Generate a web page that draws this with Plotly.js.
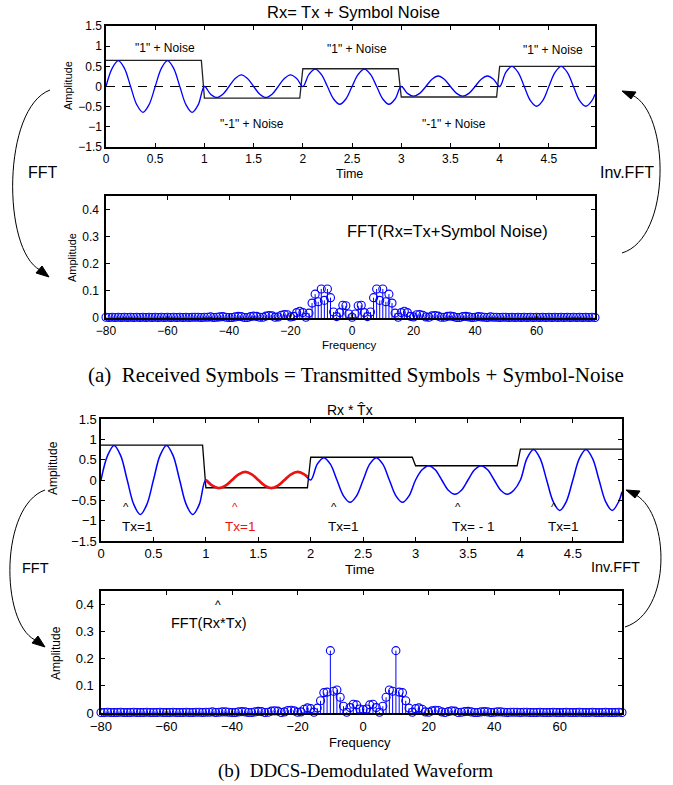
<!DOCTYPE html>
<html>
<head>
<meta charset="utf-8">
<script src="https://cdn.plot.ly/plotly-3.0.1.min.js"></script>
<style>
  html, body { margin: 0; padding: 0; background: #ffffff; }
  #chart { width: 673px; height: 785px; }
</style>
</head>
<body>
<div id="chart"></div>
<script>
// ---------- data ----------
// time grid of the received waveform (s), 1/16 s steps plus the last sample
const timeGrid = Array.from({length: 80}, (_, i) => i / 16).concat([4.96875]);

// received waveform Rx = Tx + symbol noise
const rxWave = [
  0, 0.45, 0.64, 0.45, 0, -0.45, -0.64, -0.45, 0, 0.45, 0.64, 0.45, 0, -0.45, -0.64, -0.45,
  0, -0.19, -0.27, -0.19, 0, 0.20, 0.29, 0.20, 0, -0.19, -0.27, -0.19, 0, 0.20, 0.29, 0.20,
  0, 0.30, 0.43, 0.30, 0, -0.31, -0.44, -0.31, 0, 0.30, 0.43, 0.30, 0, -0.31, -0.44, -0.31,
  0, -0.17, -0.24, -0.17, 0, 0.18, 0.26, 0.18, 0, -0.17, -0.24, -0.17, 0, 0.18, 0.26, 0.18,
  0, 0.35, 0.50, 0.35, 0, -0.35, -0.49, -0.35, 0, 0.35, 0.50, 0.35, 0, -0.35, -0.49, -0.35,
  -0.19
];
// symbol envelope of Rx
const rxEnvT = [0, 0.96875, 1, 1.96875, 2, 2.96875, 3, 3.96875, 4, 4.96875];
const rxEnvV = [0.65, 0.65, -0.29, -0.29, 0.44, 0.44, -0.26, -0.26, 0.50, 0.50];

// demodulated waveform Rx * T^x
const demodWave = [
  0, 0.60, 0.85, 0.60, 0, -0.60, -0.85, -0.60, 0, 0.60, 0.85, 0.60, 0, -0.60, -0.85, -0.60,
  0, -0.14, -0.20, -0.14, 0, 0.14, 0.20, 0.14, 0, -0.14, -0.20, -0.14, 0, 0.14, 0.20, 0.14,
  0, 0.39, 0.55, 0.39, 0, -0.39, -0.55, -0.39, 0, 0.39, 0.55, 0.39, 0, -0.39, -0.55, -0.39,
  0, 0.25, 0.35, 0.25, 0, -0.25, -0.35, -0.25, 0, 0.25, 0.35, 0.25, 0, -0.25, -0.35, -0.25,
  0, 0.53, 0.75, 0.53, 0, -0.53, -0.75, -0.53, 0, 0.53, 0.75, 0.53, 0, -0.53, -0.75, -0.53,
  -0.29
];
// second symbol (highlighted)
const demodSym2T = [1, 1.0625, 1.125, 1.1875, 1.25, 1.3125, 1.375, 1.4375, 1.5, 1.5625, 1.625, 1.6875, 1.75, 1.8125, 1.875, 1.9375, 1.96875];
const demodSym2V = [0, -0.14, -0.20, -0.14, 0, 0.14, 0.20, 0.14, 0, -0.14, -0.20, -0.14, 0, 0.14, 0.20, 0.14, 0.08];
// symbol envelope of the demodulated waveform
const demodEnvT = [0, 0.96875, 1, 1.96875, 2, 2.96875, 3, 3.96875, 4, 4.96875];
const demodEnvV = [0.86, 0.86, -0.19, -0.19, 0.56, 0.56, 0.35, 0.35, 0.76, 0.76];

// FFT bins -80 .. 79
const freqBins = Array.from({length: 160}, (_, i) => i - 80);

// |FFT(Rx)|
const fftRx = [
  0.003, 0.002, 0.003, 0.002, 0.003, 0.002, 0.003, 0.002, 0.003, 0.002,
  0.003, 0.002, 0.003, 0.002, 0.003, 0.002, 0.003, 0.002, 0.003, 0.002,
  0.003, 0.002, 0.003, 0.002, 0.003, 0.002, 0.003, 0.002, 0.003, 0.003,
  0.003, 0.002, 0.003, 0.003, 0.004, 0.002, 0.003, 0.004, 0.005, 0.003,
  0.002, 0.002, 0.004, 0.006, 0.005, 0.002, 0.002, 0.005, 0.007, 0.006,
  0.003, 0.003, 0.007, 0.009, 0.008, 0.003, 0.004, 0.010, 0.013, 0.012,
  0.004, 0.006, 0.020, 0.025, 0.020, 0.003, 0.018, 0.055, 0.088, 0.060,
  0.107, 0.065, 0.107, 0.075, 0.022, 0.005, 0.020, 0.047, 0.045, 0.015,
  0.003, 0.015, 0.045, 0.047, 0.020, 0.005, 0.022, 0.075, 0.107, 0.065,
  0.107, 0.060, 0.088, 0.055, 0.018, 0.003, 0.020, 0.025, 0.020, 0.006,
  0.004, 0.012, 0.013, 0.010, 0.004, 0.003, 0.008, 0.009, 0.007, 0.003,
  0.003, 0.006, 0.007, 0.005, 0.002, 0.002, 0.005, 0.006, 0.004, 0.002,
  0.003, 0.005, 0.004, 0.003, 0.002, 0.004, 0.003, 0.003, 0.002, 0.003,
  0.003, 0.002, 0.003, 0.002, 0.003, 0.002, 0.003, 0.002, 0.003, 0.002,
  0.003, 0.002, 0.003, 0.002, 0.003, 0.002, 0.003, 0.002, 0.003, 0.002,
  0.003, 0.002, 0.003, 0.002, 0.003, 0.002, 0.003, 0.002, 0.003, 0.002
];

// |FFT(Rx * T^x)|
const fftDemod = [
  0.002, 0.002, 0.003, 0.002, 0.002, 0.002, 0.003, 0.002, 0.002, 0.002,
  0.003, 0.002, 0.002, 0.002, 0.003, 0.002, 0.002, 0.002, 0.003, 0.002,
  0.002, 0.002, 0.003, 0.002, 0.002, 0.002, 0.003, 0.002, 0.002, 0.003,
  0.003, 0.002, 0.003, 0.003, 0.004, 0.002, 0.003, 0.004, 0.004, 0.003,
  0.002, 0.002, 0.004, 0.005, 0.004, 0.002, 0.002, 0.004, 0.006, 0.005,
  0.002, 0.003, 0.007, 0.008, 0.007, 0.002, 0.004, 0.009, 0.010, 0.008,
  0.003, 0.004, 0.014, 0.019, 0.016, 0.003, 0.018, 0.045, 0.075, 0.077,
  0.230, 0.080, 0.085, 0.058, 0.025, 0.003, 0.020, 0.032, 0.030, 0.015,
  0.012, 0.015, 0.030, 0.032, 0.020, 0.003, 0.025, 0.058, 0.085, 0.080,
  0.230, 0.077, 0.075, 0.045, 0.018, 0.003, 0.016, 0.019, 0.014, 0.004,
  0.003, 0.008, 0.010, 0.009, 0.004, 0.002, 0.005, 0.008, 0.007, 0.002,
  0.003, 0.005, 0.006, 0.004, 0.002, 0.002, 0.004, 0.005, 0.004, 0.002,
  0.003, 0.004, 0.004, 0.003, 0.002, 0.003, 0.003, 0.003, 0.002, 0.003,
  0.003, 0.002, 0.002, 0.002, 0.003, 0.002, 0.002, 0.002, 0.003, 0.002,
  0.002, 0.002, 0.003, 0.002, 0.002, 0.002, 0.003, 0.002, 0.002, 0.002,
  0.003, 0.002, 0.002, 0.002, 0.003, 0.002, 0.002, 0.002, 0.003, 0.002
];

const timeTicks = [0, 0.5, 1, 1.5, 2, 2.5, 3, 3.5, 4, 4.5];
const ampTicks = [-1.5, -1, -0.5, 0, 0.5, 1, 1.5];
const freqTicks = [-80, -60, -40, -20, 0, 20, 40, 60];
const specTicks = [0, 0.1, 0.2, 0.3, 0.4];

// ---------- helpers ----------
const W = 673, H = 785;
const px = x => x / W;            // pixel -> paper x
const py = y => 1 - y / H;        // pixel -> paper y
const BLUE = '#0000ff';
const RED = '#ee1111';
const FONT = 'Liberation Sans, Arial, Helvetica, sans-serif';
const SERIF = 'Liberation Serif, Times New Roman, serif';

function stemLines(xs, ys) {
  const sx = [], sy = [];
  xs.forEach((x, i) => { sx.push(x, x, null); sy.push(0, ys[i], null); });
  return {x: sx, y: sy};
}

function axisStyle(size, extra) {
  return Object.assign({
    showline: true, mirror: 'ticks', linecolor: '#000', linewidth: 1.6,
    ticks: 'inside', ticklen: 4, tickwidth: 1, tickcolor: '#000',
    showgrid: false, zeroline: false, fixedrange: true,
    tickfont: {family: FONT, size: size, color: '#000'}
  }, extra);
}

// ---------- traces ----------
const s1 = stemLines(freqBins, fftRx);
const s2 = stemLines(freqBins, fftDemod);

const traces = [
  // top: received waveform
  {x: [0, 4.96875], y: [0, 0], xaxis: 'x', yaxis: 'y', mode: 'lines',
   line: {color: '#000', width: 1.2, dash: '9px,7px'}, hoverinfo: 'skip'},
  {x: rxEnvT, y: rxEnvV, xaxis: 'x', yaxis: 'y', mode: 'lines',
   line: {color: '#222', width: 1.3}},
  {x: timeGrid, y: rxWave, xaxis: 'x', yaxis: 'y', mode: 'lines',
   line: {color: BLUE, width: 1.3, shape: 'spline', smoothing: 1}},

  // spectrum of Rx
  {x: s1.x, y: s1.y, xaxis: 'x2', yaxis: 'y2', mode: 'lines',
   line: {color: BLUE, width: 1}, hoverinfo: 'skip'},
  {x: freqBins, y: fftRx, xaxis: 'x2', yaxis: 'y2', mode: 'markers', cliponaxis: false,
   marker: {symbol: 'circle-open', size: 8, color: BLUE, line: {width: 1.1, color: BLUE}}},

  // demodulated waveform
  {x: demodEnvT, y: demodEnvV, xaxis: 'x3', yaxis: 'y3', mode: 'lines',
   line: {color: '#000', width: 1.3}},
  {x: timeGrid, y: demodWave, xaxis: 'x3', yaxis: 'y3', mode: 'lines',
   line: {color: BLUE, width: 1.5, shape: 'spline', smoothing: 1}},
  {x: demodSym2T, y: demodSym2V, xaxis: 'x3', yaxis: 'y3', mode: 'lines',
   line: {color: RED, width: 2.6, shape: 'spline', smoothing: 1}},

  // spectrum of demodulated waveform
  {x: s2.x, y: s2.y, xaxis: 'x4', yaxis: 'y4', mode: 'lines',
   line: {color: BLUE, width: 1}, hoverinfo: 'skip'},
  {x: freqBins, y: fftDemod, xaxis: 'x4', yaxis: 'y4', mode: 'markers', cliponaxis: false,
   marker: {symbol: 'circle-open', size: 8, color: BLUE, line: {width: 1.1, color: BLUE}}}
];

// ---------- annotations ----------
function txt(text, x, y, size, extra) {
  return Object.assign({text: text, x: x, y: y, xref: 'paper', yref: 'paper',
    showarrow: false, xanchor: 'center', yanchor: 'middle',
    font: {family: FONT, size: size, color: '#000'}}, extra || {});
}
function dtxt(text, x, y, ax, size, color, yanchor) {
  return {text: text, x: x, y: y, xref: 'x' + ax, yref: 'y' + ax,
    showarrow: false, xanchor: 'center', yanchor: yanchor || 'middle',
    font: {family: FONT, size: size, color: color || '#000'}};
}
// decision label: hat sits just above the "T" of the label
function decision(label, xText, xHat, color) {
  return [
    dtxt(label, xText, -0.90, '3', 13.5, color, 'top'),
    dtxt('^', xHat, -0.86, '3', 11.5, color, 'bottom')
  ];
}

const annotations = [
  // panel titles and axis labels
  txt('Rx= Tx + Symbol Noise', px(353), py(12), 16.5),
  txt('Time', px(349), py(174), 12.5),
  txt('Amplitude', px(68), py(86), 11, {textangle: -90}),
  txt('Frequency', px(349), py(345), 11.5),
  txt('Amplitude', px(72), py(258), 11, {textangle: -90}),
  txt('Rx * T\u0302x', px(350), py(410), 14),
  txt('Time', px(360), py(569), 13.5),
  txt('Amplitude', px(53), py(468), 12, {textangle: -90}),
  txt('Frequency', px(360), py(742), 13),
  txt('Amplitude', px(56), py(653), 12, {textangle: -90}),

  // captions
  txt('(a)  Received Symbols = Transmitted Symbols + Symbol-Noise', px(356), py(375), 21, {font: {family: SERIF, size: 21, color: '#000'}}),
  txt('(b)  DDCS-Demodulated Waveform', px(355), py(771), 19, {font: {family: SERIF, size: 19, color: '#000'}}),

  // arrow labels
  txt('FFT', px(43), py(173), 16),
  txt('Inv.FFT', px(627), py(173), 16),
  txt('FFT', px(35), py(568), 14.5),
  txt('Inv.FFT', px(615), py(567), 14.5),

  // symbol labels, top waveform
  dtxt('"1" + Noise', 0.60, 0.95, '', 12),
  dtxt('"1" + Noise', 2.55, 0.93, '', 12),
  dtxt('"1" + Noise', 4.54, 0.91, '', 12),
  dtxt('"-1" + Noise', 1.48, -0.92, '', 12),
  dtxt('"-1" + Noise', 3.54, -0.92, '', 12),

  // spectrum labels
  dtxt('FFT(Rx=Tx+Symbol Noise)', 31, 0.32, '2', 16.5),
  dtxt('FFT(Rx*Tx)', -47, 0.333, '4', 14.5),
  dtxt('^', -44.3, 0.365, '4', 12, '#000', 'bottom')
].concat(
  // decision labels, demodulated waveform
  decision('Tx=1', 0.34, 0.24),
  decision('Tx=1', 1.33, 1.28, RED),
  decision('Tx=1', 2.31, 2.22),
  decision('Tx= - 1', 3.55, 3.40),
  decision('Tx=1', 4.41, 4.32)
).map(a => { if (a.xref === 'x') { a.yref = 'y'; } return a; });

// ---------- curved arrows ----------
function pathPx(cmds) {
  // cmds: array of [letter, x1, y1, x2, y2, ...] in pixels
  return cmds.map(c => c[0] + ' ' + c.slice(1).map((v, i) => (i % 2 === 0 ? px(v) : py(v)).toFixed(5)).join(' ')).join(' ');
}
const curve = {type: 'path', xref: 'paper', yref: 'paper', line: {color: '#000', width: 1}};
const head = {type: 'path', xref: 'paper', yref: 'paper', fillcolor: '#000', line: {color: '#000', width: 1}};
const shapes = [
  Object.assign({path: pathPx([['M', 50, 90], ['C', 2, 108, 2, 250, 40, 270]])}, curve),
  Object.assign({path: pathPx([['M', 49, 277], ['L', 36, 273], ['L', 42, 266], ['Z']])}, head),
  Object.assign({path: pathPx([['M', 622, 253], ['C', 672, 238, 670, 112, 632, 95]])}, curve),
  Object.assign({path: pathPx([['M', 622, 91], ['L', 636, 92], ['L', 631, 99], ['Z']])}, head),
  Object.assign({path: pathPx([['M', 45, 490], ['C', 0, 506, 0, 622, 35, 640]])}, curve),
  Object.assign({path: pathPx([['M', 45, 647], ['L', 32, 643], ['L', 38, 636], ['Z']])}, head),
  Object.assign({path: pathPx([['M', 625, 627], ['C', 672, 612, 670, 515, 636, 495]])}, curve),
  Object.assign({path: pathPx([['M', 626, 490], ['L', 640, 491], ['L', 635, 498], ['Z']])}, head)
];

// ---------- layout ----------
const layout = {
  width: W, height: H,
  margin: {l: 0, r: 0, t: 0, b: 0},
  paper_bgcolor: '#fff', plot_bgcolor: '#fff',
  showlegend: false,
  font: {family: FONT, color: '#000'},
  xaxis: axisStyle(12, {domain: [px(106), px(595)], range: [0, 4.96875], tickvals: timeTicks, anchor: 'y'}),
  yaxis: axisStyle(12, {domain: [py(147), py(26)], range: [-1.5, 1.5], tickvals: ampTicks, anchor: 'x'}),
  xaxis2: axisStyle(12, {domain: [px(106), px(595)], range: [-80, 79], tickvals: freqTicks, anchor: 'y2', ticklabelstandoff: 1}),
  yaxis2: axisStyle(12, {domain: [py(318), py(196)], range: [0, 0.45], tickvals: specTicks, anchor: 'x2', ticklabelstandoff: 3}),
  xaxis3: axisStyle(13, {domain: [px(101), px(622)], range: [0, 4.96875], tickvals: timeTicks, anchor: 'y3'}),
  yaxis3: axisStyle(13, {domain: [py(541), py(419)], range: [-1.5, 1.5], tickvals: ampTicks, anchor: 'x3'}),
  xaxis4: axisStyle(13, {domain: [px(101), px(622)], range: [-80, 79], tickvals: freqTicks, anchor: 'y4', ticklabelstandoff: 1}),
  yaxis4: axisStyle(13, {domain: [py(713), py(591)], range: [0, 0.45], tickvals: specTicks, anchor: 'x4', ticklabelstandoff: 3}),
  annotations: annotations,
  shapes: shapes
};

Plotly.newPlot('chart', traces, layout, {staticPlot: true, displayModeBar: false});
</script>
</body>
</html>
